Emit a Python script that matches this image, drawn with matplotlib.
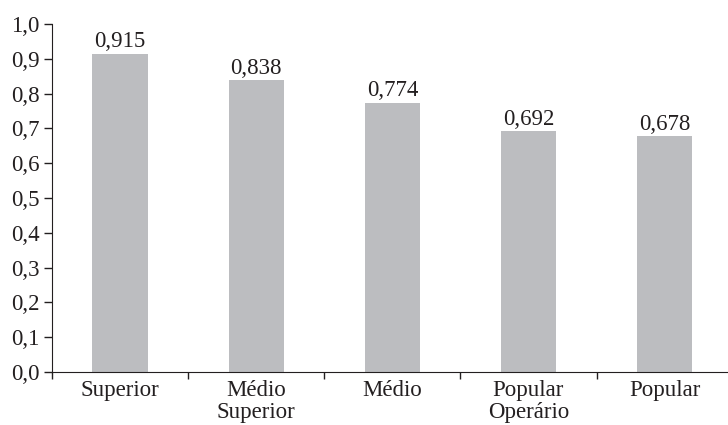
import numpy as np
import matplotlib
matplotlib.use("Agg")
import matplotlib.pyplot as plt

categories = ["Superior", "Médio\nSuperior", "Médio", "Popular\nOperário", "Popular"]
values = [0.915, 0.838, 0.774, 0.692, 0.678]
value_labels = ["0,915", "0,838", "0,774", "0,692", "0,678"]
yticks = [0.0, 0.1, 0.2, 0.3, 0.4, 0.5, 0.6, 0.7, 0.8, 0.9, 1.0]
ytick_labels = ["0,0", "0,1", "0,2", "0,3", "0,4", "0,5", "0,6", "0,7", "0,8", "0,9", "1,0"]

plt.rcParams['font.family'] = ['Liberation Serif', 'DejaVu Serif']

fig = plt.figure(figsize=(7.28, 4.25), dpi=100)
ax = fig.add_axes([0.0714, 0.1247, 0.935, 0.8188])

x = np.arange(len(categories))
ax.bar(x, values, width=0.405, color='#bcbdc0', zorder=2)

for xi, v, lab in zip(x, values, value_labels):
    ax.text(xi, v + 0.004, lab, ha='center', va='bottom', fontsize=16.5, color='#231f20')

ax.set_xlim(-0.5, len(categories) - 0.5)
ax.set_ylim(0, 1.0)
ax.set_yticks(yticks)
ax.set_yticklabels(ytick_labels, fontsize=16.5, color='#231f20')

# category labels at centres, ticks at boundaries
ax.set_xticks(np.arange(-0.5, len(categories) - 0.5, 1.0))
ax.set_xticklabels([])
ax.set_xticks(x, minor=True)
ax.set_xticklabels(categories, minor=True, fontsize=16.5, color='#231f20', linespacing=1.05)
ax.tick_params(axis='x', which='minor', length=0, pad=6)
ax.tick_params(axis='x', which='major', length=5, width=1, color='#231f20')
ax.tick_params(axis='y', length=6, width=1, color='#231f20', pad=3)

ax.spines['top'].set_visible(False)
ax.spines['right'].set_visible(False)
ax.spines['left'].set_color('#231f20')
ax.spines['bottom'].set_color('#231f20')

fig.savefig('out.png', dpi=100)
